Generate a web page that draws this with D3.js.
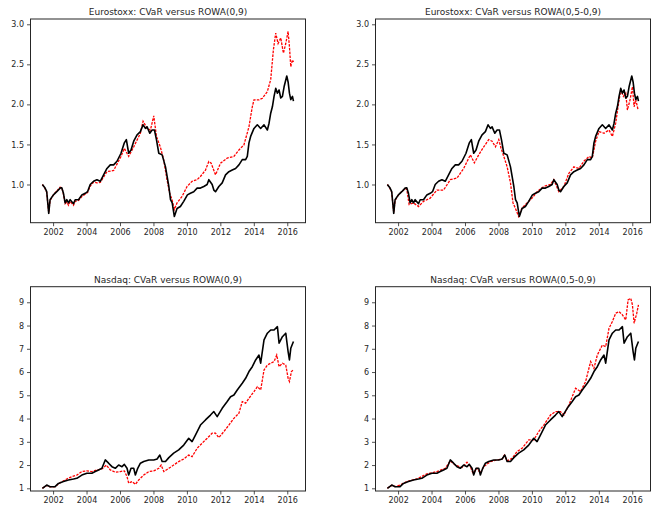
<!DOCTYPE html>
<html>
<head>
<meta charset="utf-8">
<script src="https://cdn.jsdelivr.net/npm/d3@7"></script>
<style>
  body { margin: 0; background: #fff; }
  svg { display: block; font-family: "DejaVu Sans", sans-serif; }
</style>
</head>
<body>
<svg id="chart"></svg>
<script>
// [decimal year, value]
const euroCvar = [
  [2001.36, 1.00], [2001.52, 0.955], [2001.62, 0.91], [2001.74, 0.64], [2001.82, 0.81],
  [2002.02, 0.87], [2002.22, 0.91], [2002.42, 0.955], [2002.52, 0.96], [2002.62, 0.89],
  [2002.72, 0.77], [2002.82, 0.81], [2002.92, 0.77], [2003.02, 0.81], [2003.22, 0.76],
  [2003.32, 0.81], [2003.52, 0.81], [2003.72, 0.87], [2003.92, 0.89], [2004.06, 0.91],
  [2004.22, 1.00], [2004.42, 1.04], [2004.62, 1.06], [2004.82, 1.04], [2005.02, 1.12],
  [2005.22, 1.20], [2005.42, 1.245], [2005.62, 1.245], [2005.82, 1.29], [2006.06, 1.39],
  [2006.26, 1.52], [2006.38, 1.56], [2006.52, 1.39], [2006.66, 1.43], [2006.82, 1.54],
  [2007.02, 1.62], [2007.22, 1.66], [2007.38, 1.745], [2007.52, 1.70], [2007.62, 1.72],
  [2007.78, 1.64], [2007.92, 1.68], [2008.06, 1.68], [2008.18, 1.56], [2008.32, 1.39],
  [2008.52, 1.37], [2008.72, 1.22], [2008.92, 0.975], [2009.02, 0.81], [2009.12, 0.77],
  [2009.25, 0.60], [2009.41, 0.70], [2009.61, 0.725], [2009.81, 0.79], [2010.03, 0.87],
  [2010.21, 0.89], [2010.41, 0.91], [2010.61, 0.955], [2010.81, 0.955], [2011.01, 0.975],
  [2011.21, 1.00], [2011.31, 1.06], [2011.51, 1.00], [2011.61, 0.93], [2011.71, 0.91],
  [2011.91, 0.975], [2012.11, 1.02], [2012.31, 1.12], [2012.51, 1.16], [2012.71, 1.18],
  [2012.91, 1.20], [2013.11, 1.245], [2013.31, 1.31], [2013.51, 1.31], [2013.61, 1.35],
  [2013.71, 1.52], [2013.81, 1.60], [2014.01, 1.70], [2014.21, 1.745], [2014.41, 1.70],
  [2014.61, 1.745], [2014.81, 1.68], [2014.91, 1.765], [2015.01, 1.89], [2015.11, 1.97],
  [2015.21, 2.10], [2015.31, 2.20], [2015.41, 2.14], [2015.51, 2.18], [2015.61, 2.08],
  [2015.71, 2.10], [2015.81, 2.22], [2015.97, 2.355], [2016.05, 2.28], [2016.13, 2.14],
  [2016.21, 2.06], [2016.31, 2.10], [2016.37, 2.04]
];

const euroRowa09 = [
  [2001.36, 1.00], [2001.52, 0.95], [2001.62, 0.90], [2001.74, 0.65], [2001.82, 0.80],
  [2002.02, 0.87], [2002.22, 0.92], [2002.42, 0.965], [2002.52, 0.96], [2002.62, 0.88],
  [2002.72, 0.76], [2002.82, 0.78], [2002.92, 0.74], [2003.02, 0.79], [2003.22, 0.74],
  [2003.32, 0.79], [2003.52, 0.80], [2003.72, 0.85], [2003.92, 0.88], [2004.06, 0.90],
  [2004.22, 0.98], [2004.42, 1.03], [2004.62, 1.02], [2004.82, 1.025], [2005.22, 1.16],
  [2005.62, 1.175], [2006.06, 1.35], [2006.26, 1.45], [2006.52, 1.35], [2006.82, 1.47],
  [2007.22, 1.64], [2007.38, 1.79], [2007.62, 1.70], [2007.82, 1.68], [2008.02, 1.857],
  [2008.18, 1.60], [2008.41, 1.47], [2008.61, 1.31], [2008.81, 1.06], [2008.97, 0.89],
  [2009.11, 0.81], [2009.25, 0.69], [2009.41, 0.77], [2009.71, 0.85], [2010.01, 0.975],
  [2010.31, 1.04], [2010.61, 1.06], [2010.81, 1.10], [2011.11, 1.18], [2011.31, 1.287],
  [2011.45, 1.266], [2011.71, 1.12], [2012.01, 1.266], [2012.41, 1.33], [2012.81, 1.35],
  [2013.11, 1.43], [2013.41, 1.495], [2013.71, 1.72], [2013.91, 1.97], [2014.01, 2.056],
  [2014.31, 2.056], [2014.51, 2.077], [2014.81, 2.16], [2015.01, 2.31], [2015.17, 2.68],
  [2015.31, 2.89], [2015.45, 2.76], [2015.61, 2.83], [2015.77, 2.64], [2015.91, 2.76],
  [2016.05, 2.91], [2016.13, 2.72], [2016.21, 2.47], [2016.31, 2.555], [2016.37, 2.53]
];

const euroRowa0509 = [
  [2001.36, 1.00], [2001.52, 0.95], [2001.62, 0.90], [2001.74, 0.65], [2001.82, 0.80],
  [2002.02, 0.87], [2002.22, 0.91], [2002.42, 0.95], [2002.52, 0.94], [2002.66, 0.75],
  [2002.92, 0.77], [2003.22, 0.725], [2003.52, 0.79], [2003.92, 0.83], [2004.32, 0.93],
  [2004.72, 0.93], [2005.12, 1.06], [2005.52, 1.08], [2005.92, 1.20], [2006.32, 1.37],
  [2006.56, 1.27], [2006.82, 1.37], [2007.12, 1.47], [2007.42, 1.56], [2007.62, 1.54],
  [2007.82, 1.47], [2008.02, 1.56], [2008.16, 1.45], [2008.32, 1.35], [2008.52, 1.22],
  [2008.72, 1.02], [2008.87, 0.77], [2009.01, 0.705], [2009.21, 0.60], [2009.41, 0.705],
  [2009.71, 0.77], [2010.01, 0.83], [2010.31, 0.91], [2010.71, 0.975], [2011.11, 1.00],
  [2011.31, 1.06], [2011.61, 0.91], [2011.91, 0.975], [2012.21, 1.14], [2012.51, 1.22],
  [2012.81, 1.20], [2013.11, 1.29], [2013.41, 1.35], [2013.61, 1.33], [2013.81, 1.54],
  [2014.01, 1.66], [2014.31, 1.64], [2014.61, 1.68], [2014.81, 1.60], [2015.01, 1.765],
  [2015.15, 1.97], [2015.31, 2.18], [2015.47, 2.10], [2015.61, 2.14], [2015.71, 1.93],
  [2015.87, 2.06], [2016.01, 2.22], [2016.11, 1.97], [2016.21, 2.06], [2016.35, 1.93]
];

const nasdaqCvar = [
  [2001.36, 1.00], [2001.62, 1.14], [2001.82, 1.07], [2002.12, 1.07], [2002.32, 1.21],
  [2002.62, 1.29], [2002.92, 1.36], [2003.22, 1.40], [2003.42, 1.43], [2003.72, 1.57],
  [2004.02, 1.65], [2004.32, 1.65], [2004.52, 1.72], [2004.72, 1.79], [2004.92, 1.86],
  [2005.12, 2.22], [2005.32, 2.08], [2005.52, 1.93], [2005.72, 1.86], [2005.92, 2.00],
  [2006.12, 1.93], [2006.26, 2.03], [2006.42, 1.86], [2006.52, 1.57], [2006.66, 1.86],
  [2006.82, 1.86], [2006.92, 1.57], [2007.06, 1.86], [2007.22, 2.08], [2007.42, 2.15],
  [2007.72, 2.22], [2008.02, 2.22], [2008.22, 2.26], [2008.38, 2.43], [2008.52, 2.15],
  [2008.72, 2.15], [2008.92, 2.32], [2009.21, 2.51], [2009.51, 2.65], [2009.81, 2.86],
  [2010.11, 3.15], [2010.31, 3.01], [2010.51, 3.29], [2010.81, 3.72], [2011.11, 3.94],
  [2011.41, 4.15], [2011.61, 4.30], [2011.81, 4.08], [2012.11, 4.44], [2012.41, 4.73],
  [2012.61, 4.94], [2012.81, 5.01], [2013.01, 5.23], [2013.31, 5.52], [2013.51, 5.73],
  [2013.71, 6.02], [2013.91, 6.23], [2014.11, 6.52], [2014.31, 6.73], [2014.41, 6.38],
  [2014.61, 7.38], [2014.81, 7.67], [2015.01, 7.81], [2015.21, 7.81], [2015.41, 7.95],
  [2015.51, 7.24], [2015.71, 7.52], [2015.91, 7.67], [2016.05, 6.88], [2016.13, 6.52],
  [2016.21, 7.02], [2016.37, 7.31]
];

const nasdaqRowa09 = [
  [2001.36, 1.00], [2001.62, 1.12], [2001.82, 1.06], [2002.12, 1.07], [2002.42, 1.24],
  [2002.82, 1.40], [2003.12, 1.50], [2003.42, 1.57], [2003.72, 1.72], [2004.02, 1.75],
  [2004.32, 1.72], [2004.62, 1.79], [2004.92, 1.83], [2005.18, 2.00], [2005.42, 1.79],
  [2005.72, 1.69], [2006.02, 1.72], [2006.26, 1.75], [2006.42, 1.50], [2006.52, 1.22],
  [2006.72, 1.29], [2006.92, 1.17], [2007.12, 1.36], [2007.42, 1.57], [2007.72, 1.72],
  [2008.02, 1.75], [2008.32, 1.86], [2008.46, 2.00], [2008.62, 1.72], [2008.92, 1.86],
  [2009.21, 2.00], [2009.51, 2.15], [2009.81, 2.26], [2010.11, 2.43], [2010.31, 2.36],
  [2010.61, 2.72], [2010.91, 2.94], [2011.21, 3.15], [2011.51, 3.37], [2011.71, 3.37],
  [2011.91, 3.18], [2012.21, 3.44], [2012.51, 3.72], [2012.81, 4.01], [2013.11, 4.23],
  [2013.31, 4.73], [2013.51, 4.66], [2013.71, 4.87], [2014.01, 5.16], [2014.21, 5.37],
  [2014.41, 5.23], [2014.61, 6.09], [2014.81, 6.30], [2015.01, 6.38], [2015.21, 6.45],
  [2015.37, 6.73], [2015.51, 6.23], [2015.71, 6.38], [2015.91, 6.30], [2016.05, 5.73],
  [2016.13, 5.59], [2016.25, 6.02], [2016.37, 6.09]
];

const nasdaqRowa0509 = [
  [2001.36, 1.00], [2001.62, 1.13], [2001.82, 1.07], [2002.12, 1.14], [2002.52, 1.29],
  [2003.12, 1.40], [2003.72, 1.62], [2004.32, 1.72], [2004.82, 1.86], [2005.12, 2.18],
  [2005.42, 2.00], [2005.82, 1.89], [2006.12, 2.12], [2006.32, 1.93], [2006.48, 1.65],
  [2006.72, 1.86], [2006.92, 1.65], [2007.12, 1.93], [2007.52, 2.15], [2007.92, 2.22],
  [2008.22, 2.26], [2008.36, 2.43], [2008.52, 2.18], [2008.82, 2.29], [2009.11, 2.58],
  [2009.41, 2.72], [2009.81, 3.08], [2010.11, 3.08], [2010.41, 3.44], [2010.71, 3.72],
  [2011.11, 4.15], [2011.41, 4.30], [2011.71, 4.30], [2011.91, 4.15], [2012.21, 4.58],
  [2012.61, 5.30], [2012.91, 5.16], [2013.21, 5.59], [2013.51, 6.45], [2013.71, 6.16],
  [2013.91, 6.73], [2014.21, 7.16], [2014.41, 7.09], [2014.61, 7.88], [2014.81, 8.17],
  [2015.01, 8.53], [2015.21, 8.60], [2015.41, 8.46], [2015.61, 8.24], [2015.75, 9.10],
  [2015.91, 9.17], [2016.01, 8.89], [2016.11, 8.10], [2016.27, 8.53], [2016.37, 8.89]
];

const yearTicks = [2002, 2004, 2006, 2008, 2010, 2012, 2014, 2016];
const euroTicks = [1.0, 1.5, 2.0, 2.5, 3.0];
const nasdaqTicks = [1, 2, 3, 4, 5, 6, 7, 8, 9];

const panelTitles = [
  "Eurostoxx: CVaR versus ROWA(0,9)",
  "Eurostoxx: CVaR versus ROWA(0,5-0,9)",
  "Nasdaq: CVaR versus ROWA(0,9)",
  "Nasdaq: CVaR versus ROWA(0,5-0,9)"
];

const WIDTH = 656;
const HEIGHT = 505;

/**
 * Draws one subplot: axes frame, ticks, title, red and black lines.
 * @param {*} svg The svg to draw on.
 * @param {*} box Left, top, width and height of the axes box.
 * @param {*} opts Title, y domain, y ticks, y format and the two series.
 */
function drawPanel(svg, box, opts) {
  var g = svg.append("g").attr("transform", `translate(${box.left},${box.top})`);

  var x = d3.scaleLinear().domain([2000.65, 2017.09]).range([0, box.width]);
  var y = d3.scaleLinear().domain(opts.yDomain).range([box.height, 0]);

  var line = d3
    .line()
    .x((d) => x(d[0]))
    .y((d) => y(d[1]));

  g.append("path")
    .datum(opts.red)
    .attr("d", line)
    .attr("fill", "none")
    .attr("stroke", "#ff0000")
    .attr("stroke-width", 1.3)
    .attr("stroke-dasharray", "2.6,1.2");

  g.append("path")
    .datum(opts.black)
    .attr("d", line)
    .attr("fill", "none")
    .attr("stroke", "#000")
    .attr("stroke-width", 1.6)
    .attr("stroke-linejoin", "round");

  var xAxis = g
    .append("g")
    .attr("transform", `translate(0,${box.height})`)
    .call(d3.axisBottom(x).tickValues(yearTicks).tickFormat(d3.format("d")).tickSize(3.5).tickPadding(3));

  var yAxis = g
    .append("g")
    .call(d3.axisLeft(y).tickValues(opts.yTicks).tickFormat(d3.format(opts.yFormat)).tickSize(3.5).tickPadding(3));

  [xAxis, yAxis].forEach((a) => {
    a.select(".domain").remove();
    a.selectAll("text").attr("font-size", 8).attr("fill", "#262626").attr("font-family", "DejaVu Sans");
    a.selectAll("line").attr("stroke", "#262626").attr("stroke-width", 0.8);
  });

  // frame
  g.append("rect")
    .attr("width", box.width)
    .attr("height", box.height)
    .attr("fill", "none")
    .attr("stroke", "#262626")
    .attr("stroke-width", 1);

  g.append("text")
    .attr("x", box.width / 2)
    .attr("y", -4)
    .attr("text-anchor", "middle")
    .attr("font-size", 9)
    .attr("fill", "#262626")
    .text(opts.title);
}

var svg = d3.select("#chart").attr("width", WIDTH).attr("height", HEIGHT);

var topBox = { top: 19, height: 203.7 };
var bottomBox = { top: 286.7, height: 204.3 };
var lefts = [30.5, 375.5];
var panelW = 275;

drawPanel(svg, { left: lefts[0], top: topBox.top, width: panelW, height: topBox.height }, {
  title: panelTitles[0], yDomain: [0.523, 3.066], yTicks: euroTicks, yFormat: ".1f",
  black: euroCvar, red: euroRowa09
});
drawPanel(svg, { left: lefts[1], top: topBox.top, width: panelW, height: topBox.height }, {
  title: panelTitles[1], yDomain: [0.523, 3.066], yTicks: euroTicks, yFormat: ".1f",
  black: euroCvar, red: euroRowa0509
});
drawPanel(svg, { left: lefts[0], top: bottomBox.top, width: panelW, height: bottomBox.height }, {
  title: panelTitles[2], yDomain: [0.884, 9.67], yTicks: nasdaqTicks, yFormat: "d",
  black: nasdaqCvar, red: nasdaqRowa09
});
drawPanel(svg, { left: lefts[1], top: bottomBox.top, width: panelW, height: bottomBox.height }, {
  title: panelTitles[3], yDomain: [0.884, 9.67], yTicks: nasdaqTicks, yFormat: "d",
  black: nasdaqCvar, red: nasdaqRowa0509
});
</script>
</body>
</html>
